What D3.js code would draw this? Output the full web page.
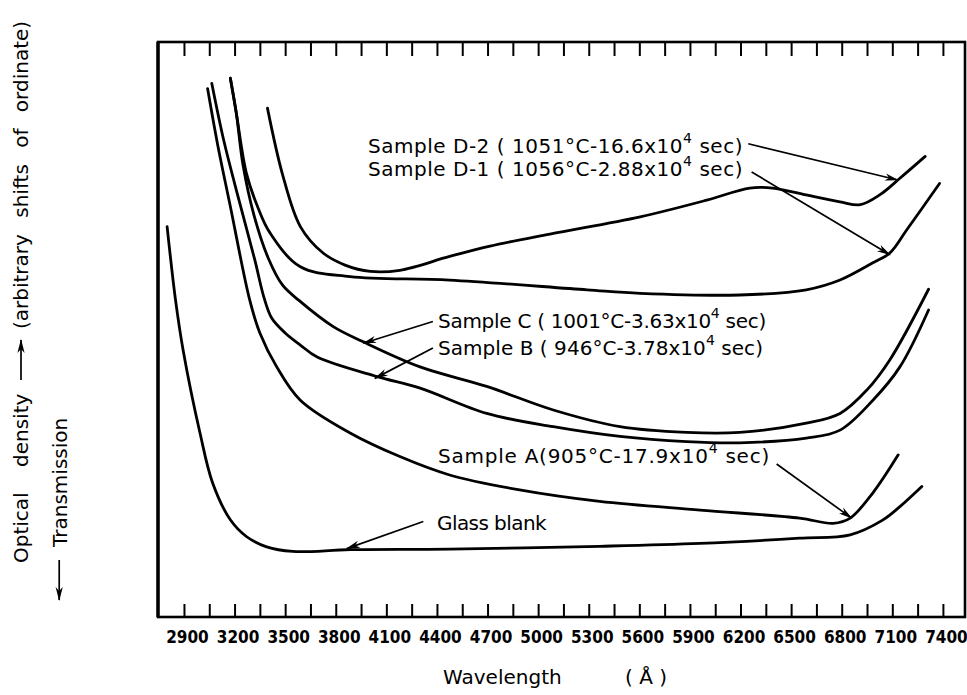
<!doctype html>
<html lang="en">
<head>
<meta charset="utf-8">
<title>Optical density vs wavelength</title>
<style>
  body { margin: 0; background: #fff; }
  svg { display: block; }
  .lbl { font-family: "DejaVu Sans", sans-serif; font-size: 20px; fill: #000; }
  .tick text { font-family: "Liberation Sans Narrow", "DejaVu Sans Condensed", sans-serif; font-weight: bold; font-size: 17px; fill: #000; }
  .tick line { stroke: #000; stroke-width: 2; }
  .curve { fill: none; stroke: #000; stroke-width: 2.8; stroke-linecap: round; }
  .arrow { fill: none; stroke: #000; stroke-width: 1.7; }
</style>
</head>
<body>
<script src="https://cdn.jsdelivr.net/npm/d3@7/dist/d3.min.js"></script>
<script>

// wavelength (angstrom) and optical density (arbitrary units, ordinates shifted)
var glassWl = [2800, 2850, 2895, 2995, 3070, 3175, 3270, 3390, 3545, 3885, 4475, 5365, 5960, 6550, 6850, 7045, 7145, 7275];
var glassOd = [6.79, 5.51, 4.64, 3.20, 2.33, 1.69, 1.40, 1.22, 1.14, 1.17, 1.18, 1.23, 1.28, 1.37, 1.43, 1.69, 1.92, 2.27];

var aWl = [3040, 3100, 3175, 3290, 3350, 3450, 3590, 3885, 4180, 4475, 4890, 5365, 5960, 6550, 6750, 6850, 6985, 7135];
var aOd = [9.19, 8.21, 7.14, 5.51, 4.94, 4.35, 3.77, 3.20, 2.79, 2.47, 2.21, 2.01, 1.86, 1.72, 1.63, 1.72, 2.16, 2.82];

var bWl = [3065, 3135, 3210, 3320, 3375, 3420, 3500, 3590, 3690, 4045, 4300, 4695, 5090, 5485, 5880, 6195, 6590, 6790, 6985, 7145, 7315];
var bOd = [9.28, 8.30, 7.43, 6.21, 5.55, 5.20, 4.94, 4.73, 4.52, 4.18, 3.98, 3.54, 3.31, 3.14, 3.05, 3.03, 3.11, 3.25, 3.77, 4.35, 5.34];

var cWl = [3175, 3210, 3250, 3315, 3400, 3485, 3580, 3785, 3960, 4300, 4695, 5090, 5485, 5880, 6195, 6590, 6790, 6950, 7085, 7315];
var cOd = [9.37, 8.77, 7.86, 6.99, 6.24, 5.77, 5.51, 5.05, 4.79, 4.35, 4.01, 3.60, 3.31, 3.21, 3.21, 3.37, 3.54, 3.95, 4.47, 5.70];

var d1Wl = [3175, 3210, 3270, 3340, 3410, 3590, 3885, 4475, 5290, 5605, 6195, 6590, 6790, 6985, 7085, 7185, 7380];
var d1Od = [9.37, 8.77, 7.72, 7.11, 6.68, 6.09, 5.92, 5.86, 5.69, 5.63, 5.60, 5.69, 5.86, 6.16, 6.33, 6.73, 7.54];

var d2Wl = [3395, 3485, 3590, 3725, 3855, 4005, 4180, 4475, 4715, 5070, 5605, 6000, 6255, 6390, 6590, 6790, 6910, 7025, 7145, 7295];
var d2Od = [8.85, 7.69, 6.79, 6.33, 6.12, 6.01, 6.03, 6.27, 6.45, 6.66, 6.96, 7.25, 7.46, 7.46, 7.34, 7.22, 7.17, 7.34, 7.63, 8.01];

var tickLabels = [2900, 3200, 3500, 3800, 4100, 4400, 4700, 5000, 5300, 5600, 5900, 6200, 6500, 6800, 7100, 7400];

// label text, with the superscript split out
var notes = [
  {pre: "Sample D-2 ( 1051°C-16.6x10", sup: "4", post: " sec)"},
  {pre: "Sample D-1 ( 1056°C-2.88x10", sup: "4", post: " sec)"},
  {pre: "Sample C ( 1001°C-3.63x10", sup: "4", post: " sec)"},
  {pre: "Sample B ( 946°C-3.78x10", sup: "4", post: " sec)"},
  {pre: "Sample A(905°C-17.9x10", sup: "4", post: " sec)"},
  {pre: "Glass blank", sup: "", post: ""}
];

// where each label sits (px) and where its arrow points (wavelength, density)
var noteLayout = [
  {x: 368, y: 153, end: 743, from: [6246, 8.23], to: [7133, 7.60]},
  {x: 368, y: 176, end: 743, from: [6266, 7.74], to: [7086, 6.30]},
  {x: 438, y: 328, end: 766, from: [4376, 5.14], to: [3963, 4.76]},
  {x: 438, y: 355, end: 763, from: [4376, 4.68], to: [4032, 4.15]},
  {x: 438, y: 463, end: 770, from: [6414, 2.66], to: [6859, 1.72]},
  {x: 437, y: 530, end: 546, from: [4319, 1.66], to: [3865, 1.19]}
];

var series = [
  [glassWl, glassOd], [aWl, aOd], [bWl, bOd], [cWl, cOd], [d1Wl, d1Od], [d2Wl, d2Od]
];

var margin = {top: 42, left: 158},
    width  = 807,
    height = 575;

var svg = d3.select("body")
  .append("svg")
  .attr("width", 967)
  .attr("height", 695);

svg.append("defs").append("marker")
  .attr("id", "head")
  .attr("viewBox", "0 -5 14 10")
  .attr("refX", 13)
  .attr("refY", 0)
  .attr("markerWidth", 14)
  .attr("markerHeight", 10)
  .attr("markerUnits", "userSpaceOnUse")
  .attr("orient", "auto")
  .append("path")
  .attr("d", "M0,-3.6L14,0L0,3.6L4,0Z")
  .attr("fill", "#000");

var chart = svg.append("g")
  .attr("transform", "translate(" + margin.left + "," + margin.top + ")");

var x = d3.scaleLinear()
  .domain([2746, 7531])
  .range([0, width]);

var y = d3.scaleLinear()
  .domain([0, 10])
  .range([height, 0]);

var tickWl = d3.range(2900, 7401, 150);

var bottomAxis = chart.append("g")
  .attr("transform", "translate(0," + height + ")")
  .call(d3.axisBottom(x).tickValues(tickWl).tickSize(-13).tickPadding(14)
    .tickFormat(function(d){ return tickLabels.indexOf(d) < 0 ? "" : d; }));
bottomAxis.select(".domain").remove();
bottomAxis.selectAll(".tick text").attr("dx", 3);

var topAxis = chart.append("g")
  .call(d3.axisTop(x).tickValues(tickWl).tickSize(-14).tickFormat(""));
topAxis.select(".domain").remove();

// frame
chart.append("rect")
  .attr("width", width)
  .attr("height", height)
  .attr("fill", "none")
  .attr("stroke", "#000")
  .attr("stroke-width", 2.6);
chart.append("line")
  .attr("x1", 0).attr("x2", 0).attr("y1", 0).attr("y2", height)
  .attr("stroke", "#000").attr("stroke-width", 3.4);

var line = d3.line()
  .x(function(d){ return x(d[0]); })
  .y(function(d){ return y(d[1]); })
  .curve(d3.curveCatmullRom.alpha(0.5));

chart.selectAll(".curve")
  .data(series)
  .enter()
  .append("path")
  .attr("class", "curve")
  .attr("d", function(s){ return line(d3.zip(s[0], s[1])); });

chart.selectAll(".arrow")
  .data(noteLayout)
  .enter()
  .append("path")
  .attr("class", "arrow")
  .attr("marker-end", "url(#head)")
  .attr("d", function(d){ return d3.line()([[x(d.from[0]), y(d.from[1])], [x(d.to[0]), y(d.to[1])]]); });

notes.forEach(function(n, i){
  var p = noteLayout[i];
  var t = svg.append("text")
    .attr("class", "lbl")
    .attr("x", p.x)
    .attr("y", p.y)
    .style("white-space", "pre");
  t.append("tspan").text(n.pre);
  if (n.sup) {
    t.append("tspan").attr("dy", -10).style("font-size", "14px").text(n.sup);
    t.append("tspan").attr("dy", 10).text(n.post);
  }
  if (p.end) {
    var natural = t.node().getComputedTextLength();
    var chars = (n.pre + n.sup + n.post).length;
    t.style("letter-spacing", ((p.end - p.x - natural) / chars) + "px");
  }
});

// x axis title
svg.append("text").attr("class", "lbl").attr("x", 443).attr("y", 684).text("Wavelength");
svg.append("text").attr("class", "lbl").attr("x", 625).attr("y", 684).style("white-space", "pre").text("( Å )");

// y axis titles (rotated)
var yt = svg.append("g").attr("transform", "translate(28,563) rotate(-90)");
yt.append("text").attr("class", "lbl").attr("x", 0).text("Optical");
yt.append("text").attr("class", "lbl").attr("x", 96).text("density");
yt.append("path").attr("class", "arrow").attr("marker-end", "url(#head)")
  .attr("d", "M183,-7L223,-7");
yt.append("text").attr("class", "lbl").attr("x", 234).style("word-spacing", "10px")
  .text("(arbitrary shifts of ordinate)");

var yt2 = svg.append("g").attr("transform", "translate(66.7,547) rotate(-90)");
yt2.append("text").attr("class", "lbl").attr("x", 0).text("Transmission");
yt2.append("path").attr("class", "arrow").attr("marker-end", "url(#head)")
  .attr("d", "M-13,-7.5L-53,-7.5");

</script>
</body>
</html>
